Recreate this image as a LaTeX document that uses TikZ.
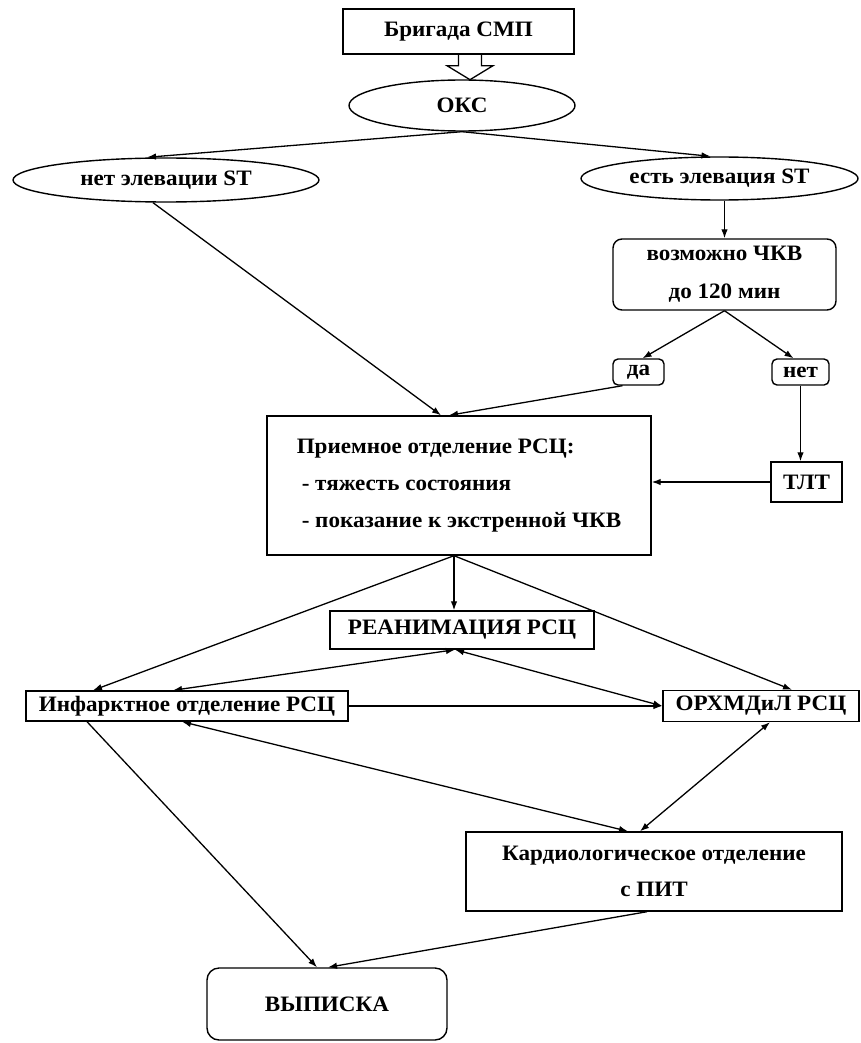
\documentclass[tikz,border=0pt]{standalone}
\usepackage{fontspec}
\setmainfont{Liberation Serif}[FakeStretch=1.05]
\usetikzlibrary{shapes.geometric,arrows.meta}
\begin{document}
\begin{tikzpicture}[x=1pt,y=-1pt,
  every node/.style={inner sep=0pt, font=\bfseries\fontsize{22}{26}\selectfont},
  sz/.style 2 args={minimum width=#1, minimum height=#2},
  box/.style={draw, line width=1.4pt},
  ell/.style={box, ellipse},
  rbox/.style={box, rounded corners=#1},
  rbox/.default=9pt,
  con/.style={line width=1.3pt},
  arr/.style={con, -{Latex[length=9pt,width=6.5pt]}},
  darr/.style={con, {Latex[length=9pt,width=6.5pt]}-{Latex[length=9pt,width=6.5pt]}}]
\fill[white] (0,0) rectangle (860,1043);
\useasboundingbox (0,0) rectangle (860,1043);

% nodes
\node[box, sz={231pt}{45pt}] (brig) at (458.5,31.5) {Бригада СМП};
\node[ell, sz={226pt}{51pt}] (oks) at (462,105.5) {ОКС};
\node[ell, sz={306pt}{44pt}] (net) at (166,180) {нет элевации ST};
\node[ell, sz={277pt}{43pt}] (est) at (719.5,178.5) {есть элевация ST};
\node[rbox, sz={223pt}{71pt}, align=center, font=\bfseries\fontsize{22}{38}\selectfont] (chkv) at (724.5,274.5) {возможно ЧКВ\\до 120 мин};
\node[rbox=5pt, sz={51pt}{26pt}] (da) at (638.5,372) {да};
\node[rbox=5pt, sz={57pt}{26pt}] (nt) at (800.5,372) {нет};
\node[box, sz={71pt}{40pt}] (tlt) at (806.5,482) {ТЛТ};
\node[box, sz={384pt}{139pt}, align=left, font=\bfseries\fontsize{22}{37}\selectfont] (priem) at (459,485.5) {Приемное отделение РСЦ:\\\hspace*{5pt}- тяжесть состояния\\\hspace*{5pt}- показание к экстренной ЧКВ};
\node[box, sz={264pt}{38pt}] (rean) at (462,630) {РЕАНИМАЦИЯ РСЦ};
\node[box, sz={322pt}{30pt}] (inf) at (187,706) {Инфарктное отделение РСЦ};
\node[box, sz={196pt}{31pt}] (orh) at (761,706) {ОРХМДиЛ РСЦ};
\node[box, sz={376pt}{79pt}, align=center, font=\bfseries\fontsize{22}{36}\selectfont] (kard) at (654,871.5) {Кардиологическое отделение\\с ПИТ};
\node[rbox=12pt, sz={240pt}{72pt}] (vyp) at (327,1004) {ВЫПИСКА};

% hollow arrow from brigade to OKS
\coordinate (ha) at ([xshift=11.5pt]brig.south);
\draw[line width=1.3pt, line join=miter] (ha) ++(-11.5,0) -- ++(0,11) -- ++(-11.5,0) -- ++(23,14) -- ++(23,-14) -- ++(-11.5,0) -- ++(0,-11);

% connectors
\draw[arr] (oks.south) -- ([xshift=-19pt]net.north);
\draw[arr] (oks.south) -- ([xshift=-9pt]est.north);
\draw[arr] (chkv.north |- est.south) -- (chkv.north);
\draw[arr] ([xshift=-13pt]net.south) -- ([xshift=-18pt]priem.north);
\draw[arr] (chkv.south) -- ([xshift=4pt]da.north);
\draw[arr] (chkv.south) -- ([xshift=-7pt]nt.north);
\draw[arr] ([xshift=-16pt]da.south) -- ([xshift=-10pt]priem.north);
\draw[arr] (nt.south) -- (nt.south |- tlt.north);
\draw[arr] (tlt.west) -- (priem.east |- tlt.west);
\draw[arr] ([xshift=-5pt]priem.south) -- ([xshift=-94pt]inf.north);
\draw[arr] ([xshift=-5pt]priem.south) -- ([xshift=-8pt]rean.north);
\draw[arr] ([xshift=-5pt]priem.south) -- ([xshift=31pt]orh.north);
\draw[darr] ([xshift=-7pt]rean.south) -- ([xshift=-14pt]inf.north);
\draw[darr] ([xshift=-7pt]rean.south) -- (orh.west);
\draw[arr] (inf.east) -- (orh.west);
\draw[darr] ([xshift=9pt]orh.south) -- ([xshift=-14pt]kard.north);
\draw[darr] ([xshift=-5pt]inf.south) -- ([xshift=-26pt]kard.north);
\draw[arr] ([xshift=-100pt]inf.south) -- ([xshift=-10pt]vyp.north);
\draw[arr] ([xshift=-7pt]kard.south) -- ([xshift=1pt]vyp.north);
\end{tikzpicture}
\end{document}
